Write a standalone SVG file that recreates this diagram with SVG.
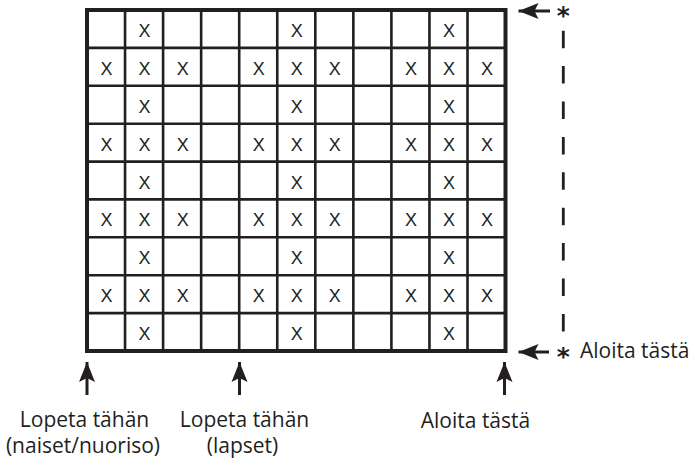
<svg xmlns="http://www.w3.org/2000/svg" width="695" height="468" viewBox="0 0 695 468">
<style>
.bg{fill:#ffffff}
.in{stroke:#231f20;stroke-width:2.6;fill:none}
.out{stroke:#231f20;stroke-width:4;fill:none}
.x{font-family:"Liberation Sans",Arial,sans-serif;font-size:18px;fill:#231f20;text-anchor:middle}
.lbl{font-family:"Open Sans","Liberation Sans",sans-serif;font-size:21px;fill:#231f20}
.mid{text-anchor:middle}
.ast{font-family:"DejaVu Sans",sans-serif;font-weight:bold;font-size:25px;fill:#231f20;text-anchor:middle}
.shaft{stroke:#231f20;stroke-width:3;fill:none}
.dash{stroke:#231f20;stroke-width:2.8;fill:none;stroke-dasharray:17.5 17.9}
</style>
<defs>
<marker id="ah" markerUnits="userSpaceOnUse" markerWidth="24" markerHeight="20" viewBox="-22 -10 24 20" refX="0" refY="0" orient="auto">
<path d="M0,0 L-20,-8 L-16,0 L-20,8 Z" fill="#231f20"/>
</marker>
</defs>
<rect class="bg" x="0" y="0" width="695" height="468"/>
<g id="grid">
<path class="in" d="M125.05,10V351M163.1,10V351M201.15,10V351M239.2,10V351M277.25,10V351M315.3,10V351M353.35,10V351M391.4,10V351M429.45,10V351M467.5,10V351"/>
<path class="in" d="M87,47.9H505.5M87,85.8H505.5M87,123.7H505.5M87,161.6H505.5M87,199.4H505.5M87,237.3H505.5M87,275.2H505.5M87,313.1H505.5"/>
<rect class="out" x="87" y="10" width="418.5" height="341"/>
</g>
<g id="marks">
<text class="x" x="144.6" y="37">X</text><text class="x" x="296.8" y="37">X</text><text class="x" x="449" y="37">X</text>
<text class="x" x="106.5" y="74.9">X</text><text class="x" x="144.6" y="74.9">X</text><text class="x" x="182.7" y="74.9">X</text><text class="x" x="258.7" y="74.9">X</text><text class="x" x="296.8" y="74.9">X</text><text class="x" x="334.8" y="74.9">X</text><text class="x" x="410.9" y="74.9">X</text><text class="x" x="449" y="74.9">X</text><text class="x" x="487" y="74.9">X</text>
<text class="x" x="144.6" y="112.8">X</text><text class="x" x="296.8" y="112.8">X</text><text class="x" x="449" y="112.8">X</text>
<text class="x" x="106.5" y="150.7">X</text><text class="x" x="144.6" y="150.7">X</text><text class="x" x="182.7" y="150.7">X</text><text class="x" x="258.7" y="150.7">X</text><text class="x" x="296.8" y="150.7">X</text><text class="x" x="334.8" y="150.7">X</text><text class="x" x="410.9" y="150.7">X</text><text class="x" x="449" y="150.7">X</text><text class="x" x="487" y="150.7">X</text>
<text class="x" x="144.6" y="188.5">X</text><text class="x" x="296.8" y="188.5">X</text><text class="x" x="449" y="188.5">X</text>
<text class="x" x="106.5" y="226.4">X</text><text class="x" x="144.6" y="226.4">X</text><text class="x" x="182.7" y="226.4">X</text><text class="x" x="258.7" y="226.4">X</text><text class="x" x="296.8" y="226.4">X</text><text class="x" x="334.8" y="226.4">X</text><text class="x" x="410.9" y="226.4">X</text><text class="x" x="449" y="226.4">X</text><text class="x" x="487" y="226.4">X</text>
<text class="x" x="144.6" y="264.3">X</text><text class="x" x="296.8" y="264.3">X</text><text class="x" x="449" y="264.3">X</text>
<text class="x" x="106.5" y="302.2">X</text><text class="x" x="144.6" y="302.2">X</text><text class="x" x="182.7" y="302.2">X</text><text class="x" x="258.7" y="302.2">X</text><text class="x" x="296.8" y="302.2">X</text><text class="x" x="334.8" y="302.2">X</text><text class="x" x="410.9" y="302.2">X</text><text class="x" x="449" y="302.2">X</text><text class="x" x="487" y="302.2">X</text>
<text class="x" x="144.6" y="340">X</text><text class="x" x="296.8" y="340">X</text><text class="x" x="449" y="340">X</text>
</g>
<g id="connectors">
<line class="shaft" x1="550" y1="11" x2="518.5" y2="11" marker-end="url(#ah)"/>
<line class="shaft" x1="549" y1="352" x2="518.5" y2="352" marker-end="url(#ah)"/>
<line class="dash" x1="563.3" y1="30.7" x2="563.3" y2="332"/>
<line class="shaft" x1="87" y1="395" x2="87" y2="362" marker-end="url(#ah)"/>
<line class="shaft" x1="239.5" y1="395" x2="239.5" y2="362" marker-end="url(#ah)"/>
<line class="shaft" x1="504.5" y1="395" x2="504.5" y2="362" marker-end="url(#ah)"/>
</g>
<g id="labels">
<text class="ast" x="563.3" y="23.5">*</text>
<text class="ast" x="563.3" y="364.5">*</text>
<text class="lbl" x="580" y="357.5">Aloita tästä</text>
<text class="lbl mid" x="84.5" y="426.5">Lopeta tähän</text>
<text class="lbl mid" x="83" y="452.5">(naiset/nuoriso)</text>
<text class="lbl mid" x="244.5" y="426.5">Lopeta tähän</text>
<text class="lbl mid" x="242.5" y="452.5">(lapset)</text>
<text class="lbl mid" x="475.5" y="427.5">Aloita tästä</text>
</g>
</svg>
